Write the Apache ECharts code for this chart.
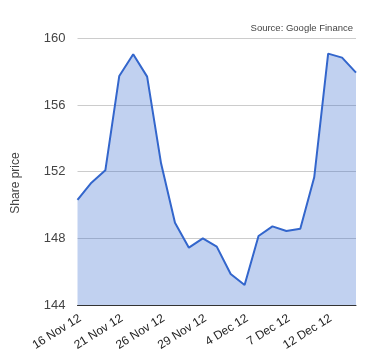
<!DOCTYPE html>
<html>
<head>
<meta charset="utf-8">
<script src="https://cdn.jsdelivr.net/npm/echarts@6/dist/echarts.min.js"></script>
<style>html,body{margin:0;padding:0;background:#fff}#c{width:380px;height:360px}</style>
</head>
<body>
<div id="c"></div>
<script>
var dates = ['16 Nov 12','19 Nov 12','20 Nov 12','21 Nov 12','22 Nov 12','23 Nov 12','26 Nov 12','27 Nov 12','28 Nov 12','29 Nov 12','30 Nov 12','3 Dec 12','4 Dec 12','5 Dec 12','6 Dec 12','7 Dec 12','10 Dec 12','11 Dec 12','12 Dec 12','13 Dec 12','14 Dec 12'];
var prices = [150.30,151.34,152.08,157.74,159.04,157.70,152.50,148.94,147.44,148.00,147.50,145.86,145.20,148.14,148.72,148.44,148.58,151.66,159.08,158.84,157.94];
var yTicks = [144,148,152,156,160];

var chart = echarts.init(document.getElementById('c'), null, {renderer:'canvas'});
chart.setOption({
  animation:false,
  grid:{left:77.5,right:24,top:38.3,bottom:55,containLabel:false},
  xAxis:{
    type:'category',data:dates,boundaryGap:false,
    axisLine:{show:true,lineStyle:{color:'#333',width:1}},
    axisTick:{show:false},
    splitLine:{show:false},
    axisLabel:{interval:2,rotate:32,color:'#222',fontFamily:'Liberation Sans, Arial',fontSize:12,margin:14,padding:[0,-3,0,0]}
  },
  yAxis:{
    type:'value',min:yTicks[0],max:yTicks[yTicks.length-1],interval:4,
    axisLine:{show:false},axisTick:{show:false},
    splitLine:{lineStyle:{color:'#cccccc',width:1}},
    axisLabel:{color:'#444',fontFamily:'Liberation Sans, Arial',fontSize:13,margin:12}
  },
  graphic:[
    {type:'text',x:16,y:183,rotation:Math.PI/2,style:{text:'Share price',fill:'#444',font:'12px "Liberation Sans", Arial',textAlign:'center',textVerticalAlign:'middle'}},
    {type:'text',x:353,y:28,style:{text:'Source: Google Finance',fill:'#444',font:'9.5px "Liberation Sans", Arial',textAlign:'right',textVerticalAlign:'middle'}}
  ],
  series:[{
    type:'line',data:prices,showSymbol:false,symbol:'none',
    lineStyle:{color:'#3366cc',width:2},
    areaStyle:{color:'#3366cc',opacity:0.3,origin:'start'},
    z:3
  }]
});
</script>
</body>
</html>
